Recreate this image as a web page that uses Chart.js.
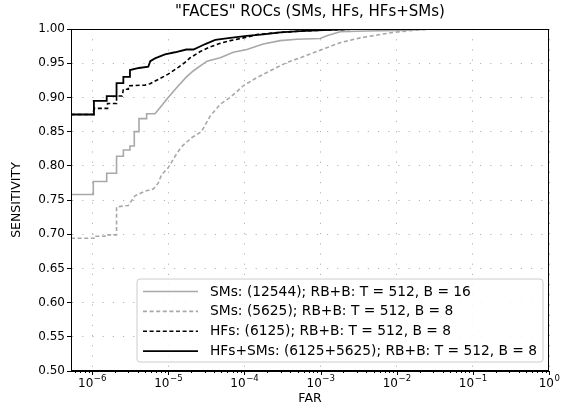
<!DOCTYPE html>
<html><head><meta charset="utf-8">
<script src="https://cdn.jsdelivr.net/npm/chart.js@4.4.1/dist/chart.umd.min.js"></script>
<style>html,body{margin:0;padding:0;background:#fff}#wrap{width:567px;height:409px;position:relative}</style>
</head><body><div id="wrap"><canvas id="c" width="567" height="409"></canvas></div>
<script>
// ---- data ----
const titleText = '"FACES" ROCs (SMs, HFs, HFs+SMs)';
const seriesLabels = [
  'SMs: (12544); RB+B: T = 512, B = 16',
  'SMs: (5625); RB+B: T = 512, B = 8',
  'HFs: (6125); RB+B: T = 512, B = 8',
  'HFs+SMs: (6125+5625); RB+B: T = 512, B = 8'
];
const smFar  = [5.3e-7,1.04e-6,1.04e-6,1.56e-6,1.56e-6,2.10e-6,2.10e-6,2.58e-6,2.58e-6,3.15e-6,3.15e-6,3.59e-6,3.59e-6,4.14e-6,4.14e-6,5.21e-6,5.21e-6,6.71e-6,7.80e-6,1.0e-5,1.36e-5,1.74e-5,2.15e-5,3.23e-5,4.83e-5,7.15e-5,1.08e-4,1.77e-4,2.96e-4,4.90e-4,9.91e-4,1.21e-3,1.81e-3,4.06e-3,0.011,0.03,1];
const smSens = [0.758,0.758,0.777,0.777,0.789,0.789,0.814,0.814,0.823,0.823,0.829,0.829,0.850,0.850,0.869,0.869,0.876,0.876,0.885,0.900,0.917,0.930,0.939,0.953,0.958,0.966,0.970,0.978,0.983,0.985,0.986,0.990,0.996,0.997,0.998,1.0,1.0];
const sm8Far  = [5.3e-7,1.06e-6,1.06e-6,1.48e-6,1.48e-6,2.10e-6,2.10e-6,2.99e-6,3.66e-6,4.96e-6,6.37e-6,7.42e-6,8.18e-6,1.0e-5,1.23e-5,1.50e-5,2.03e-5,2.74e-5,3.57e-5,4.83e-5,6.53e-5,9.68e-5,1.46e-4,2.19e-4,3.62e-4,5.42e-4,9.91e-4,1.81e-3,3.32e-3,6.08e-3,9.0e-3,0.0165,0.03,1];
const sm8Sens = [0.694,0.694,0.697,0.697,0.699,0.699,0.740,0.742,0.756,0.763,0.766,0.775,0.787,0.797,0.814,0.828,0.841,0.850,0.873,0.890,0.900,0.917,0.929,0.939,0.951,0.958,0.969,0.980,0.987,0.992,0.995,0.998,1.0,1.0];
const hfFar  = [5.3e-7,1.06e-6,1.06e-6,1.6e-6,1.6e-6,2.10e-6,2.10e-6,2.5e-6,2.58e-6,3.0e-6,3.0e-6,4.96e-6,5.78e-6,1.0e-5,1.36e-5,1.74e-5,1.95e-5,2.64e-5,3.57e-5,4.83e-5,6.53e-5,1.08e-4,1.46e-4,2.96e-4,5.42e-4,3e-3,1];
const hfSens = [0.875,0.875,0.884,0.884,0.891,0.891,0.902,0.902,0.912,0.912,0.917,0.918,0.920,0.934,0.944,0.953,0.958,0.967,0.974,0.979,0.983,0.988,0.992,0.995,0.997,1.0,1.0];
const hfsmFar  = [5.3e-7,1.06e-6,1.06e-6,1.56e-6,1.56e-6,2.10e-6,2.10e-6,2.58e-6,2.58e-6,3.15e-6,3.15e-6,4.14e-6,5.49e-6,5.82e-6,6.71e-6,9.08e-6,1.23e-5,1.73e-5,2.15e-5,3.07e-5,4.15e-5,6.53e-5,1.08e-4,1.77e-4,2.96e-4,5.42e-4,8.97e-4,2.5e-3,1];
const hfsmSens = [0.875,0.875,0.895,0.895,0.902,0.902,0.921,0.921,0.930,0.930,0.940,0.943,0.945,0.953,0.957,0.963,0.966,0.970,0.970,0.978,0.984,0.987,0.990,0.992,0.995,0.997,0.998,1.0,1.0];
const xMin = 5.3e-7, xMax = 1;
const yMin = 0.5, yMax = 1.0, yStep = 0.05;
const xDecades = [-7,-6,-5,-4,-3,-2,-1,0];

// ---- styling ----
const FONT = 'DejaVu Sans';
const gridCol = '#b4b4b4';
function pts(xs, ys){ return xs.map((x,i)=>({x:x, y:ys[i]})); }
function isPow10(v){ const e = Math.log10(v); return Math.abs(e - Math.round(e)) < 1e-6; }

const styles = [
  {color:'#a8a8a8', dash:[], width:1.6, order:4},
  {color:'#a8a8a8', dash:[4,2.6], width:1.6, order:3},
  {color:'#000000', dash:[4,2.6], width:1.6, order:2},
  {color:'#000000', dash:[], width:1.8, order:1}
];
const dataSets = [pts(smFar,smSens), pts(sm8Far,sm8Sens), pts(hfFar,hfSens), pts(hfsmFar,hfsmSens)];

const framePlugin = {
  id:'frame',
  afterDraw(chart){
    const {ctx, chartArea:a} = chart;
    const xs = chart.scales.x;
    ctx.save();
    // full box
    ctx.strokeStyle = '#000'; ctx.lineWidth = 1; ctx.setLineDash([]);
    ctx.strokeRect(Math.round(a.left)+0.5, Math.round(a.top)+0.5, Math.round(a.right-a.left)-1, Math.round(a.bottom-a.top)-1);
    // x tick marks (major + minor) and decade labels 10^n
    ctx.beginPath();
    xs.ticks.forEach(t=>{
      const px = Math.round(xs.getPixelForValue(t.value))+0.5;
      const len = t.major ? 4 : 2;
      ctx.moveTo(px, a.bottom); ctx.lineTo(px, a.bottom+len);
    });
    ctx.stroke();
    ctx.fillStyle = '#000'; ctx.textBaseline = 'alphabetic'; ctx.textAlign = 'left';
    xs.ticks.forEach(t=>{
      if (!t.major) return;
      const px = xs.getPixelForValue(t.value);
      const e = Math.round(Math.log10(t.value));
      const expStr = e < 0 ? '\u2212' + String(-e) : String(e);
      ctx.font = '12px "' + FONT + '"';
      const wb = ctx.measureText('10').width;
      ctx.font = '8.6px "' + FONT + '"';
      const we = ctx.measureText(expStr).width;
      const x0 = px - (wb + we)/2;
      ctx.font = '12px "' + FONT + '"';
      ctx.fillText('10', x0, 387);
      ctx.font = '8.6px "' + FONT + '"';
      ctx.fillText(expStr, x0 + wb + 0.5, 381);
    });
    // title
    ctx.fillStyle = '#000';
    ctx.font = '15px "' + FONT + '"';
    ctx.textAlign = 'center'; ctx.textBaseline = 'middle';
    ctx.fillText(titleText, (a.left+a.right)/2, 12);
    // legend
    const bx = 137, by = 279, bw = 406, bh = 83, r = 3;
    ctx.beginPath();
    ctx.moveTo(bx+r, by); ctx.lineTo(bx+bw-r, by); ctx.arcTo(bx+bw, by, bx+bw, by+r, r);
    ctx.lineTo(bx+bw, by+bh-r); ctx.arcTo(bx+bw, by+bh, bx+bw-r, by+bh, r);
    ctx.lineTo(bx+r, by+bh); ctx.arcTo(bx, by+bh, bx, by+bh-r, r);
    ctx.lineTo(bx, by+r); ctx.arcTo(bx, by, bx+r, by, r); ctx.closePath();
    ctx.fillStyle = 'rgba(255,255,255,0.85)'; ctx.fill();
    ctx.strokeStyle = '#cccccc'; ctx.lineWidth = 1; ctx.stroke();
    ctx.font = '13.8px "' + FONT + '"';
    ctx.textAlign = 'left'; ctx.textBaseline = 'middle';
    chart.data.datasets.forEach((ds,i)=>{
      const yy = 291.5 + i*19.9;
      ctx.beginPath();
      ctx.strokeStyle = ds.borderColor; ctx.lineWidth = ds.borderWidth;
      ctx.setLineDash(ds.borderDash || []);
      ctx.moveTo(143, yy); ctx.lineTo(198, yy); ctx.stroke();
      ctx.setLineDash([]);
      ctx.fillStyle = '#000';
      ctx.fillText(ds.label, 210, yy+0.5);
    });
    ctx.restore();
  }
};

new Chart(document.getElementById('c'), {
  type:'line',
  data:{datasets: dataSets.map((d,i)=>({
    label: seriesLabels[i], data: d,
    borderColor: styles[i].color, borderDash: styles[i].dash, borderWidth: styles[i].width,
    order: styles[i].order, pointRadius:0, fill:false, tension:0
  }))},
  options:{
    responsive:false, animation:false, devicePixelRatio:1,
    layout:{padding:{top:29, right:18, left:0, bottom:0}},
    plugins:{legend:{display:false}, title:{display:false}, tooltip:{enabled:false}},
    scales:{
      x:{
        type:'logarithmic', min:xMin, max:xMax,
        afterFit(s){ s.height = 38; },
        afterBuildTicks(s){
          const t = [];
          xDecades.forEach(e=>{ for(let k=1;k<=9;k++){ const v = k*Math.pow(10,e); if(v>=xMin*0.9999 && v<=xMax*1.0001) t.push({value:v, major:k===1}); } });
          s.ticks = t;
        },
        ticks:{autoSkip:false, maxRotation:0, minRotation:0, padding:1, color:'#000',
          font:{family:FONT, size:12},
          callback(){ return ''; }
        },
        grid:{color:(c)=> (c.tick && c.tick.major) ? gridCol : 'rgba(0,0,0,0)', lineWidth:1, tickLength:4, tickColor:'rgba(0,0,0,0)'},
        border:{display:true, color:'#000', width:1, dash:[1.2,9]},
        title:{display:true, text:'FAR', color:'#000', font:{family:FONT, size:12.5}, padding:{top:0,bottom:3}}
      },
      y:{
        type:'linear', min:yMin, max:yMax,
        afterFit(s){ s.width = 71; },
        ticks:{stepSize:yStep, padding:2, color:'#000', font:{family:FONT, size:12},
          callback(v){ return Number(v).toFixed(2); }
        },
        grid:{color:gridCol, lineWidth:1, tickLength:4, tickColor:'#000'},
        border:{display:true, color:'#000', width:1, dash:[1.2,9]},
        title:{display:true, text:'SENSITIVITY', color:'#000', font:{family:FONT, size:12.5}, padding:{top:9,bottom:0}}
      }
    }
  },
  plugins:[framePlugin]
});
</script>
</body></html>
